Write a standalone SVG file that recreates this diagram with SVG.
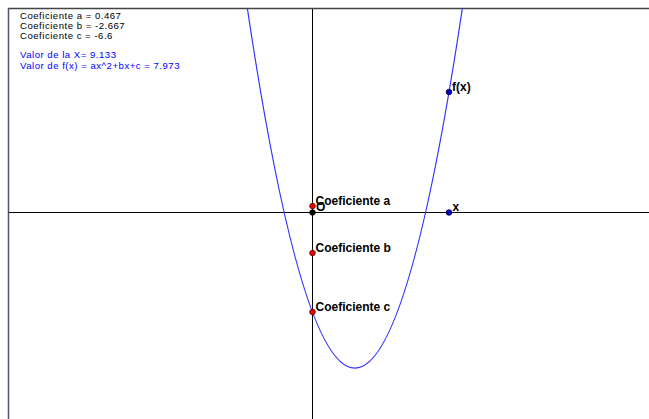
<svg xmlns="http://www.w3.org/2000/svg" width="649" height="419" viewBox="0 0 649 419">
<defs>
<style>
.info{font-family:"Liberation Sans",Arial,sans-serif;font-size:9.6px;letter-spacing:0.5px;fill:#000}
.blue{fill:#0000ff}
.lbl{font-family:"Liberation Sans",Arial,sans-serif;font-size:12px;font-weight:bold;fill:#000}
.axis{stroke:#000;stroke-width:1;fill:none}
.curve{stroke:#3333ff;stroke-width:1.2;fill:none}
.pr{fill:#ee0000;stroke:#500000;stroke-width:0.8}
.pb{fill:#0000cc;stroke:#000040;stroke-width:0.8}
.pk{fill:#000;stroke:#000;stroke-width:0.8}
</style>
<clipPath id="plot"><rect x="8.5" y="8.5" width="641" height="411"/></clipPath>
</defs>
<rect x="0" y="0" width="649" height="419" fill="#fff"/>
<g id="frame">
<line x1="8" y1="8.5" x2="649" y2="8.5" stroke="#444" stroke-width="1.5"/>
<line x1="8.5" y1="8" x2="8.5" y2="419" stroke="#556" stroke-width="1.5"/>
</g>
<g id="connectors">
<line class="axis" x1="9" y1="212.5" x2="649" y2="212.5"/>
<line class="axis" x1="312.5" y1="9" x2="312.5" y2="419"/>
<path class="curve" clip-path="url(#plot)" d="M247.3,8 Q354.85,728.2 462.4,8"/>
</g>
<g id="info">
<text class="info" x="20" y="19">Coeficiente a = 0.467</text>
<text class="info" x="20" y="29">Coeficiente b = -2.667</text>
<text class="info" x="20" y="39">Coeficiente c = -6.6</text>
<text class="info blue" x="20" y="58">Valor de la X= 9.133</text>
<text class="info blue" x="20" y="68.5">Valor de f(x) = ax^2+bx+c = 7.973</text>
</g>
<g id="node-O">
<circle class="pk" cx="312.5" cy="212.5" r="2.8"/>
<text class="lbl" x="316" y="211">O</text>
</g>
<g id="node-a">
<circle class="pr" cx="312.5" cy="206" r="2.8"/>
<text class="lbl" x="315.5" y="205">Coeficiente a</text>
</g>
<g id="node-b">
<circle class="pr" cx="312.5" cy="253" r="2.8"/>
<text class="lbl" x="315.5" y="251.5">Coeficiente b</text>
</g>
<g id="node-c">
<circle class="pr" cx="312.5" cy="312" r="2.8"/>
<text class="lbl" x="315.5" y="310.5">Coeficiente c</text>
</g>
<g id="node-x">
<circle class="pb" cx="449" cy="212.5" r="2.8"/>
<text class="lbl" x="452.5" y="211">x</text>
</g>
<g id="node-fx">
<circle class="pb" cx="449" cy="92" r="2.8"/>
<text class="lbl" x="452" y="91">f(x)</text>
</g>
</svg>
